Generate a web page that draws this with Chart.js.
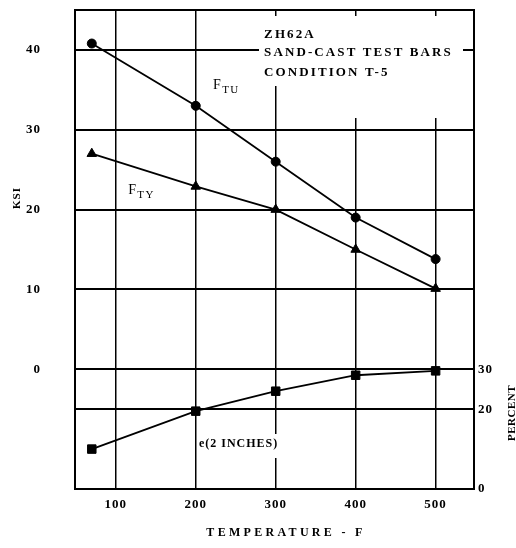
<!DOCTYPE html>
<html><head><meta charset="utf-8">
<script src="https://cdn.jsdelivr.net/npm/chart.js@4.4.1/dist/chart.umd.min.js"></script>
<style>html,body{margin:0;padding:0;background:#fff;}canvas{display:block;}</style>
</head><body>
<canvas id="c" width="516" height="548"></canvas>
<script>
// ---- data ----
const temperatures = [70, 200, 300, 400, 500];
const ftu = [40.8, 33.0, 26.0, 19.0, 13.8];
const fty = [27.0, 22.9, 20.0, 15.0, 10.1];
const elongation = [10.0, 19.5, 24.5, 28.5, 29.6];
const xTicks = [100, 200, 300, 400, 500];
const ksiTicks = [0, 10, 20, 30, 40];
const percentTicks = [0, 20, 30];
const titleLines = ['ZH62A', 'SAND-CAST TEST BARS', 'CONDITION T-5'];
const xTitle = 'TEMPERATURE - F';
const ksiTitle = 'KSI';
const percentTitle = 'PERCENT';
const eLabel = 'e(2 INCHES)';

const SERIF = '"Liberation Serif", "DejaVu Serif", serif';
const pts = (ys) => temperatures.map((t, i) => ({x: t, y: ys[i]}));

const annotations = {
  id: 'annotations',
  beforeDraw(chart) {
    chart.ctx.letterSpacing = '1px';
  },
  beforeDatasetsDraw(chart) {
    const {ctx} = chart;
    ctx.save();
    ctx.fillStyle = '#fff';
    // white backgrounds that break the grid behind the texts
    ctx.fillRect(259, 16, 204, 70);
    ctx.fillRect(340, 86, 123, 32);
    ctx.fillRect(199, 434, 96, 24);
    ctx.restore();
  },
  afterDraw(chart) {
    const {ctx, chartArea: a, scales} = chart;
    const X = v => scales.x.getPixelForValue(v);
    const Y = v => scales.y.getPixelForValue(v);
    const Y2 = v => scales.y2.getPixelForValue(v);
    ctx.save();
    // frame
    ctx.strokeStyle = '#000';
    ctx.lineWidth = 2;
    ctx.strokeRect(a.left, a.top, a.right - a.left, a.bottom - a.top);
    ctx.fillStyle = '#000';
    ctx.textBaseline = 'middle';
    // title block
    ctx.font = 'bold 13px ' + SERIF;
    ctx.letterSpacing = '2.1px';
    ctx.textAlign = 'left';
    const tY = [41.9, 39.6, 37.1];
    titleLines.forEach((s, i) => ctx.fillText(s, X(285.5), Y(tY[i])));
    // F_TU
    ctx.letterSpacing = '0px';
    ctx.font = '14px ' + SERIF;
    ctx.fillText('F', X(221.5), Y(35.6));
    ctx.font = '11px ' + SERIF;
    ctx.letterSpacing = '1.5px';
    ctx.fillText('TU', X(233), Y(35.0));
    // F_TY
    ctx.letterSpacing = '0px';
    ctx.font = '14px ' + SERIF;
    ctx.fillText('F', X(115.5), Y(22.4));
    ctx.font = '11px ' + SERIF;
    ctx.letterSpacing = '1.5px';
    ctx.fillText('TY', X(127), Y(21.8));
    // e(2 INCHES)
    ctx.font = 'bold 12px ' + SERIF;
    ctx.letterSpacing = '1px';
    ctx.fillText(eLabel, X(204), Y2(11.3));
    // x title
    ctx.font = 'bold 12px ' + SERIF;
    ctx.letterSpacing = '3.3px';
    ctx.textAlign = 'center';
    ctx.fillText(xTitle, 286, 533);
    // KSI
    ctx.letterSpacing = '1px';
    ctx.save();
    ctx.translate(17, 198);
    ctx.rotate(-Math.PI / 2);
    ctx.font = 'bold 11px ' + SERIF;
    ctx.fillText(ksiTitle, 0, 0);
    ctx.restore();
    // PERCENT
    ctx.save();
    ctx.translate(512, 413);
    ctx.rotate(-Math.PI / 2);
    ctx.font = 'bold 11px ' + SERIF;
    ctx.letterSpacing = '0.5px';
    ctx.fillText(percentTitle, 0, 0);
    ctx.restore();
    ctx.restore();
  }
};

const tickFont = {family: SERIF, weight: 'bold', size: 13};
const noPad = s => { s.paddingTop = 0; s.paddingBottom = 0; };

new Chart(document.getElementById('c'), {
  type: 'line',
  data: {
    datasets: [
      {label: 'FTU', data: pts(ftu), yAxisID: 'y', pointStyle: 'circle', pointRadius: 4.5},
      {label: 'FTY', data: pts(fty), yAxisID: 'y', pointStyle: 'triangle', pointRadius: 5.5},
      {label: 'e', data: pts(elongation), yAxisID: 'y2', pointStyle: 'rect', pointRadius: 6}
    ].map(d => Object.assign(d, {
      borderColor: '#000', backgroundColor: '#000', borderWidth: 1.8,
      pointBackgroundColor: '#000', pointBorderColor: '#000', pointBorderWidth: 1,
      tension: 0, fill: false
    }))
  },
  options: {
    responsive: false,
    animation: false,
    layout: {padding: {top: 10, left: 0, right: 0, bottom: 0}},
    plugins: {legend: {display: false}, tooltip: {enabled: false}},
    scales: {
      x: {
        type: 'linear', min: 49, max: 548,
        afterBuildTicks: s => { s.ticks = xTicks.map(v => ({value: v})); },
        afterFit: s => { s.height = 59; s.paddingLeft = 0; s.paddingRight = 0; },
        grid: {color: '#000', lineWidth: 1.5, drawTicks: false},
        border: {display: false},
        ticks: {padding: 8, color: '#000', font: tickFont, maxRotation: 0}
      },
      y: {
        position: 'left', min: -15, max: 45,
        afterBuildTicks: s => { s.ticks = ksiTicks.map(v => ({value: v})); },
        afterFit: s => { s.width = 75; noPad(s); },
        grid: {color: '#000', lineWidth: 2, drawTicks: false},
        border: {display: false},
        ticks: {padding: 34, color: '#000', font: tickFont}
      },
      y2: {
        position: 'right', min: 0, max: 120,
        afterBuildTicks: s => { s.ticks = percentTicks.map(v => ({value: v})); },
        afterFit: s => { s.width = 42; noPad(s); },
        grid: {color: '#000', lineWidth: 2, drawTicks: false},
        border: {display: false},
        ticks: {padding: 4, color: '#000', font: tickFont}
      }
    }
  },
  plugins: [annotations]
});
</script>
</body></html>
